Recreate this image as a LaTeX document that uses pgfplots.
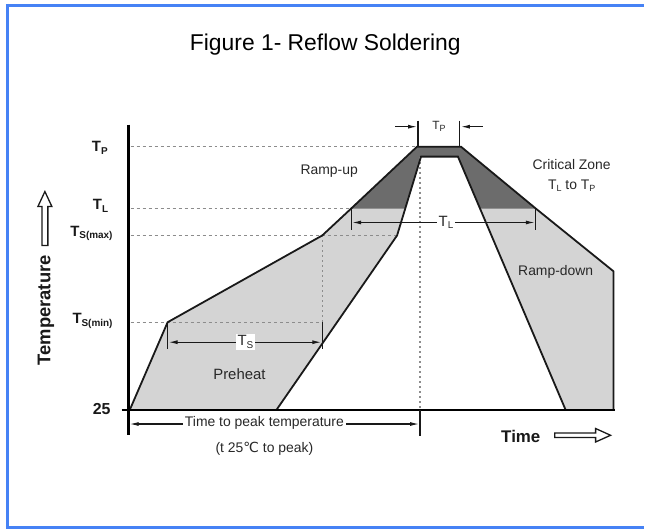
\documentclass[border=0pt]{standalone}
\usepackage{pgfplots}
\pgfplotsset{compat=1.18}
\usepackage{fontspec}
\setmainfont{Liberation Sans}
\newfontfamily\dejavu{DejaVu Sans}
\usetikzlibrary{arrows.meta}
\definecolor{frameblue}{RGB}{70,130,245}
\definecolor{lg}{RGB}{212,212,212}
\definecolor{dg}{RGB}{108,108,108}
\definecolor{dashc}{RGB}{140,140,140}
\definecolor{ink}{RGB}{25,25,25}
\definecolor{txt}{RGB}{40,40,40}
\newcommand{\fs}[1]{\fontsize{#1}{#1}\selectfont}
\newcommand{\sub}[1]{\raisebox{-0.35ex}{\fs{9}#1}}
\newcommand{\subb}[1]{\raisebox{-0.35ex}{\fs{10}#1}}
\tikzset{>={Latex[length=9bp,width=4bp]}}
\begin{document}
\begin{tikzpicture}
\begin{axis}[
  width=645bp, height=531bp, scale only axis,
  xmin=0, xmax=645, ymin=0, ymax=531, y dir=reverse,
  hide axis, clip=false,
]
% background and frame
\addplot[fill=white, draw=none] coordinates {(0,0)(645,0)(645,531)(0,531)} -- cycle;
\addplot[frameblue, line width=3bp] coordinates {(6,5.5)(645,5.5)};
\addplot[frameblue, line width=3bp] coordinates {(7.5,4)(7.5,530)};
\addplot[frameblue, line width=3bp] coordinates {(6,528.5)(645,528.5)};

% outer profile area (light gray)
\addplot[fill=lg, draw=none] coordinates {(130,411)(168,323)(323,236)(352,209)(418,147)(462,147)(537,209)(615,272)(615,411)} -- cycle;
% critical zone (dark gray)
\addplot[fill=dg, draw=none] coordinates {(352,209)(418,147)(462,147)(537,209)} -- cycle;
% inner profile area (white)
\addplot[fill=white, draw=none] coordinates {(277,411)(398,236)(422,157)(459,157)(567,411)} -- cycle;

% dashed reference lines
\addplot[dashc, line width=1.2bp, dash pattern=on 3bp off 3bp] coordinates {(131,147)(418,147)};
\addplot[dashc, line width=1.2bp, dash pattern=on 3bp off 3bp] coordinates {(131,209)(352,209)};
\addplot[dashc, line width=1.2bp, dash pattern=on 3bp off 3bp] coordinates {(131,236)(398,236)};
\addplot[dashc, line width=1.2bp, dash pattern=on 3bp off 3bp] coordinates {(131,323)(323,323)};
\addplot[dashc, line width=1.2bp, dash pattern=on 2bp off 3bp] coordinates {(323,236)(323,323)};
\addplot[dashc, line width=1.2bp, dash pattern=on 2bp off 3bp] coordinates {(421,157)(421,411)};

% profiles
\addplot[ink, line width=1.8bp, line join=miter] coordinates {(130,411)(168,323)(323,236)(352,209)(418,147)(462,147)(537,209)(615,272)(615,411)};
\addplot[ink, line width=1.8bp, line join=miter] coordinates {(277,411)(398,236)(422,157)(459,157)(567,411)};

% axes
\addplot[black, line width=2.6bp] coordinates {(129,125)(129,436)};
\addplot[black, line width=2.6bp] coordinates {(122,411)(616,411)};

% Ts bracket
\addplot[ink, line width=1.1bp] coordinates {(168,323)(168,350)};
\addplot[ink, line width=1.1bp] coordinates {(323,323)(323,350)};
\addplot[ink, line width=1.1bp, <->] coordinates {(169,343)(322,343)};
% TL bracket
\addplot[ink, line width=1.1bp] coordinates {(352,209)(352,231)};
\addplot[ink, line width=1.1bp] coordinates {(537,209)(537,231)};
\addplot[ink, line width=1.1bp, <->] coordinates {(353,223)(536,223)};
% Tp bracket
\addplot[ink, line width=1.1bp] coordinates {(419,121)(419,147)};
\addplot[ink, line width=1.1bp] coordinates {(461,121)(461,147)};
\addplot[ink, line width=1.1bp, ->] coordinates {(396,127)(418,127)};
\addplot[ink, line width=1.1bp, ->] coordinates {(484,127)(462,127)};
% time to peak bracket
\addplot[ink, line width=1.1bp] coordinates {(421,411)(421,437)};
\addplot[ink, line width=1.1bp, <->] coordinates {(130,425)(420,425)};

% hollow arrows
\addplot[draw=ink, fill=white, line width=1.3bp, line join=miter] coordinates {(42,246)(48,246)(48,207)(52,207)(45,192)(38,207)(42,207)} -- cycle;
\addplot[draw=ink, fill=white, line width=1.3bp, line join=miter] coordinates {(556,434)(597,434)(597,429.5)(612,436.3)(597,443)(597,438.5)(556,438.5)} -- cycle;

% right margin kept white
\addplot[fill=white, draw=none] coordinates {(630,7)(645,7)(645,527)(630,527)} -- cycle;

% title
\node[font=\fs{23}, text=black] at (axis cs:326,45) {Figure 1- Reflow Soldering};

% labels
\node[font=\fs{14}, text=txt] at (axis cs:330,172) {Ramp-up};
\node[font=\fs{14}, text=txt] at (axis cs:573,165) {Critical Zone};
\node[font=\fs{14}, text=txt] at (axis cs:573,186) {T\sub{L} to T\sub{P}};
\node[font=\fs{14}, text=txt] at (axis cs:557,273) {Ramp-down};
\node[font=\fs{15}, text=txt] at (axis cs:240,375) {Preheat};
\node[font=\fs{15}, text=txt, fill=white, inner sep=1.5bp] at (axis cs:246,343) {T\subb{S}};
\node[font=\fs{15}, text=txt, fill=white, inner sep=1.5bp] at (axis cs:447,223) {T\subb{L}};
\node[font=\fs{12}, text=txt, fill=white, inner sep=1bp] at (axis cs:440,127) {T\sub{P}};
\node[font=\fs{14}, text=txt, fill=white, inner sep=2bp] at (axis cs:265,424) {Time to peak temperature};
\node[font=\fs{14}, text=txt] at (axis cs:265,450) {(t 25{\dejavu ℃} to peak)};
\node[font=\bfseries\fs{17}, text=ink] at (axis cs:522,437) {Time};

% y labels
\node[font=\bfseries\fs{15}, text=ink, anchor=west, inner sep=0pt] at (axis cs:92,148) {T\subb{P}};
\node[font=\bfseries\fs{15}, text=ink, anchor=west, inner sep=0pt] at (axis cs:93,206) {T\subb{L}};
\node[font=\bfseries\fs{15}, text=ink, anchor=east, inner sep=0pt] at (axis cs:113,234) {T\subb{S(max)}};
\node[font=\bfseries\fs{15}, text=ink, anchor=east, inner sep=0pt] at (axis cs:113,322) {T\subb{S(min)}};
\node[font=\bfseries\fs{16}, text=ink, anchor=east, inner sep=0pt] at (axis cs:111,410) {25};
\node[font=\bfseries\fs{18.5}, text=ink, rotate=90] at (axis cs:46,311) {Temperature};
\end{axis}
\end{tikzpicture}
\end{document}
